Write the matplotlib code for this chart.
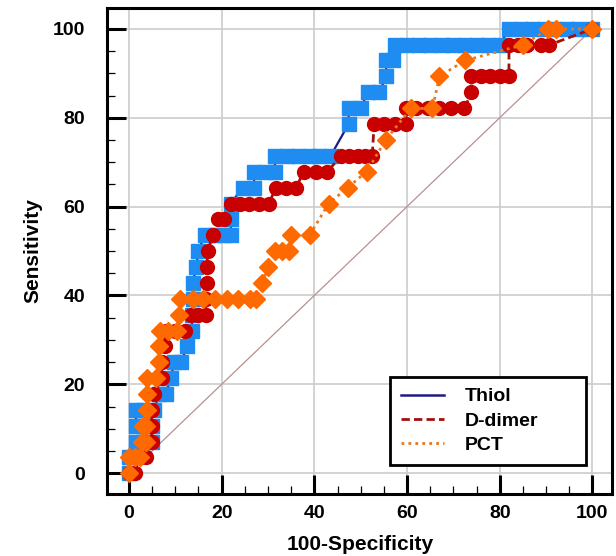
import numpy as np
import matplotlib.pyplot as plt
from matplotlib.lines import Line2D

plt.rcParams['font.family'] = ['Liberation Sans', 'DejaVu Sans']
plt.rcParams['font.weight'] = 'bold'

# точки ROC-кривых (100-Specificity, Sensitivity)
thiol_x = [0, 0, 1.5, 1.5, 3, 5, 5, 3, 1.5, 1.5, 3, 5.5, 6.5, 8, 9, 9.8, 11.3,
           12.5, 13.5, 13.7, 13.8, 13.8, 14.5, 15, 16.3, 18.5, 20.5, 22, 22, 22,
           24.5, 27, 27, 29.5, 31.5, 31.5, 34, 36.5, 39, 41, 43.5, 47.4, 47.4, 50,
           51.5, 54, 55.5, 55.5, 57, 57.5, 60, 62.5, 65, 67.5, 70, 72.5, 75, 77.5,
           80, 82, 84.5, 87, 89.5, 92, 94.5, 97, 100]
thiol_y = [0, 3.6, 3.6, 7.1, 7.1, 7.1, 10.7, 10.7, 10.7, 14.3, 14.3, 14.3, 17.9,
           17.9, 21.4, 25, 25, 28.6, 32.1, 35.7, 39.3, 42.9, 46.4, 50, 53.6, 53.6,
           53.6, 53.6, 57.1, 60.7, 64.3, 64.3, 67.9, 67.9, 67.9, 71.4, 71.4, 71.4,
           71.4, 71.4, 71.4, 78.6, 82.1, 82.1, 85.7, 85.7, 89.3, 92.9, 92.9, 96.4,
           96.4, 96.4, 96.4, 96.4, 96.4, 96.4, 96.4, 96.4, 96.4, 100, 100, 100, 100,
           100, 100, 100, 100]

ddimer_x = [0, 1.3, 2, 3.6, 4.9, 4.9, 4.9, 5.5, 7.1, 7.1, 7.8, 8, 10, 12, 13.4,
            15, 16.6, 16.6, 16.8, 16.8, 17, 18.1, 19.2, 20.5, 22, 24, 26, 28, 30.2,
            31.7, 33.8, 36, 37.8, 40.3, 42.8, 45.8, 47.5, 49.5, 51, 52.5, 52.9, 55,
            57.4, 59.8, 59.8, 62, 64.5, 67, 69.5, 72.4, 73.9, 73.9, 76, 78, 80, 82,
            82, 84, 86, 89, 90.7, 100]
ddimer_y = [0, 0, 3.6, 3.6, 7.1, 10.7, 14.3, 17.9, 21.4, 25, 28.6, 32.1, 32.1,
            32.1, 35.7, 35.7, 35.7, 39.3, 42.9, 46.4, 50, 53.6, 57.1, 57.1, 60.7,
            60.7, 60.7, 60.7, 60.7, 64.3, 64.3, 64.3, 67.9, 67.9, 67.9, 71.4, 71.4,
            71.4, 71.4, 71.4, 78.6, 78.6, 78.6, 78.6, 82.1, 82.1, 82.1, 82.1, 82.1,
            82.1, 85.7, 89.3, 89.3, 89.3, 89.3, 89.3, 96.4, 96.4, 96.4, 96.4,
            96.4, 100]

pct_x = [0, 0, 1.2, 2.4, 2.8, 3.7, 3.7, 3, 3.8, 3.8, 3.9, 5.8, 6.5, 6.5, 6.7, 8.5,
         10.3, 10.9, 11, 13.8, 16, 18.6, 21.2, 23.5, 26.1, 27.4, 28.8, 30, 31.5,
         33, 34.6, 35, 39, 43.1, 47.2, 51.3, 55.4, 60.8, 65.5, 67, 72.5, 85, 90.5,
         92.2, 100]
pct_y = [0, 3.6, 3.6, 3.6, 7.1, 7.1, 10.7, 10.7, 14.3, 17.9, 21.4, 21.4, 25, 28.6,
         32.1, 32.1, 32.1, 35.7, 39.3, 39.3, 39.3, 39.3, 39.3, 39.3, 39.3, 39.3,
         42.9, 46.4, 50, 50, 50, 53.6, 53.6, 60.7, 64.3, 67.9, 75, 82.1, 82.1, 89.3,
         92.9, 96.4, 100, 100, 100]

labels = ['Thiol', 'D-dimer', 'PCT']

fig = plt.figure(figsize=(6.16, 5.56), dpi=100)
ax = fig.add_axes([0.174, 0.1115, 0.82, 0.874])

ax.plot([0, 100], [0, 100], color='#b89090', lw=0.9, zorder=1)

ax.plot(thiol_x, thiol_y, color='#1c1c84', lw=1.6, marker='s', ms=9.5,
        mfc='#1e8cf0', mec='#1e8cf0', zorder=3)
ax.plot(ddimer_x, ddimer_y, color='#a01010', lw=2, ls=(0, (3, 1.5)), marker='o',
        ms=10, mfc='#c80000', mec='#c80000', zorder=4)
ax.plot(pct_x, pct_y, color='#e87820', lw=2, ls=(0, (1, 1.5)), marker='D',
        ms=9, mfc='#ff6a00', mec='#ff6a00', zorder=5)

ax.set_xlim(-4.7, 104.3)
ax.set_ylim(-4.7, 104.7)
ax.set_xticks(np.arange(0, 101, 20))
ax.set_yticks(np.arange(0, 101, 20))
ax.set_xticks(np.arange(0, 101, 5), minor=True)
ax.set_yticks(np.arange(0, 101, 5), minor=True)
ax.tick_params(which='major', direction='in', length=14, width=2.2, labelsize=14)
ax.tick_params(which='minor', direction='in', length=5.5, width=0.9)
ax.tick_params(axis='x', which='major', pad=8)
ax.tick_params(axis='y', which='major', pad=16)
for s in ax.spines.values():
    s.set_linewidth(2.2)

ax.grid(True, which='major', color='#cccccc', lw=1.2)
ax.set_axisbelow(True)

ax.set_xlabel('100-Specificity', fontsize=15, fontweight='bold', labelpad=9)
ax.set_ylabel('Sensitivity', fontsize=15, fontweight='bold', labelpad=7)

handles = [Line2D([], [], color='#1c1c84', lw=1.8),
           Line2D([], [], color='#a01010', lw=2, ls=(0, (3, 1.5))),
           Line2D([], [], color='#e87820', lw=2, ls=(0, (1, 1.5)))]
leg = ax.legend(handles, labels, loc='lower left', mode='expand',
                bbox_to_anchor=(0.56, 0.06, 0.387, 0.18), fontsize=14,
                frameon=True, fancybox=False, edgecolor='black', framealpha=1,
                handlelength=2.2, handletextpad=1.1, labelspacing=0.35,
                borderpad=0.55, borderaxespad=0)
leg.get_frame().set_linewidth(2)
for t in leg.get_texts():
    t.set_fontweight('bold')

fig.savefig('out.png', dpi=100)
